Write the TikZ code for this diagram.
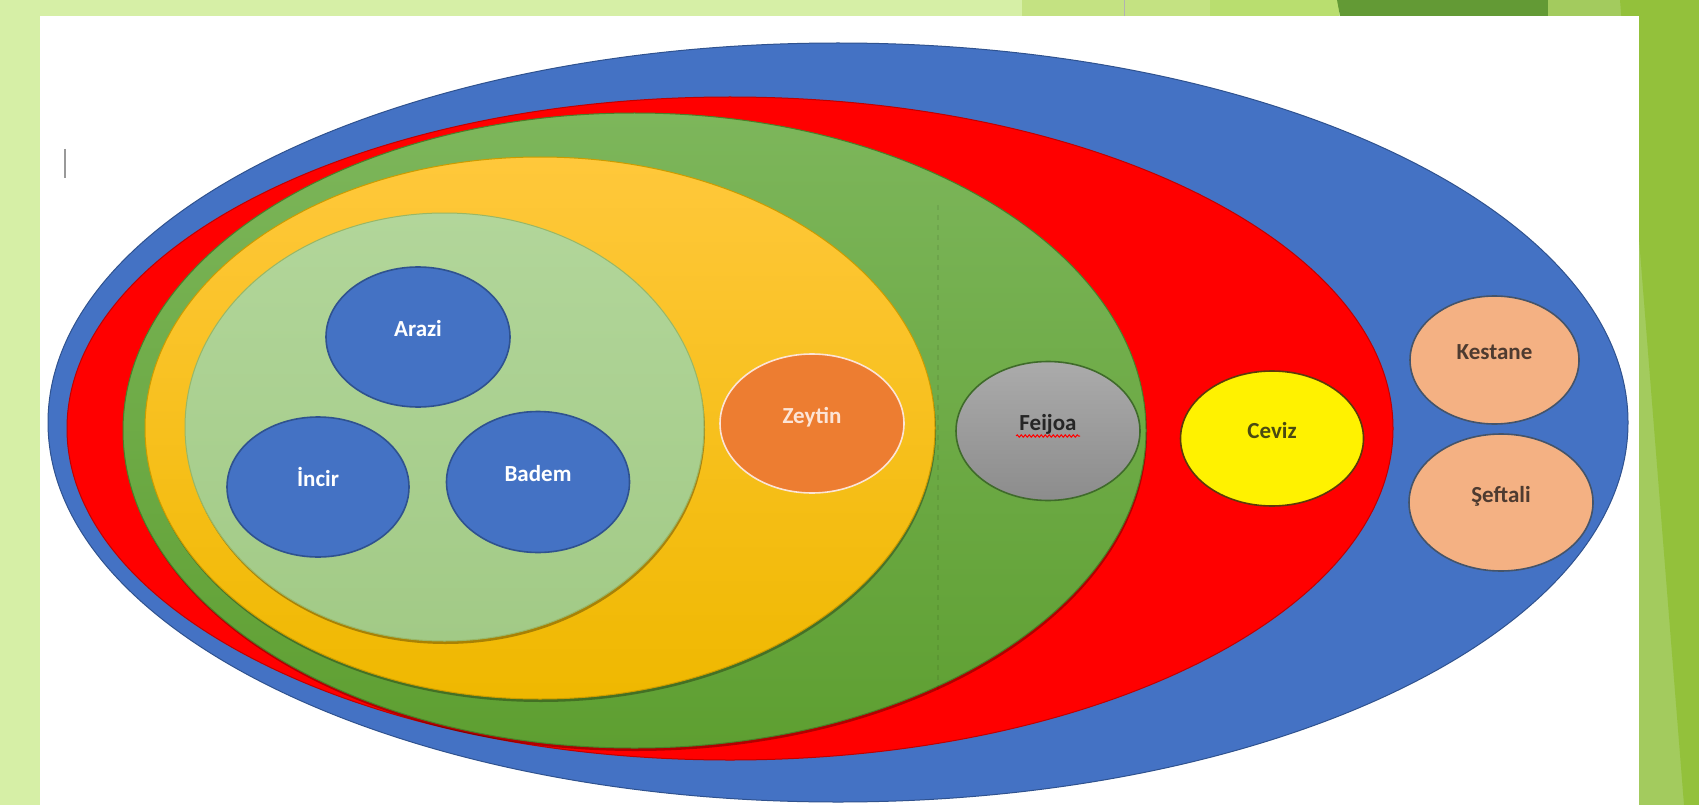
\documentclass[tikz,border=0pt]{standalone}
\usepackage{fontspec}
\setmainfont{Carlito}
\usetikzlibrary{shapes.geometric,shadows,decorations.pathmorphing}
\definecolor{slideBg}{HTML}{D6EFA6}
\definecolor{bandA}{HTML}{C4E282}
\definecolor{bandB}{HTML}{B9DE6F}
\definecolor{bandC}{HTML}{639A35}
\definecolor{bandD}{HTML}{A3CB5E}
\definecolor{bandE}{HTML}{93C13B}
\definecolor{ringBlue}{HTML}{4472C4}
\definecolor{ringBlueLine}{HTML}{2F528F}
\definecolor{ringRed}{HTML}{FF0000}
\definecolor{ringRedLine}{HTML}{C00000}
\definecolor{ringGreenTop}{HTML}{7DB65B}
\definecolor{ringGreenBot}{HTML}{5E9F31}
\definecolor{ringGoldTop}{HTML}{FFC83B}
\definecolor{ringGoldBot}{HTML}{EFB800}
\definecolor{ringPaleTop}{HTML}{B2D69A}
\definecolor{ringPaleBot}{HTML}{A2CA86}
\definecolor{zeytinFill}{HTML}{ED7D31}
\definecolor{zeytinText}{HTML}{FCE4D6}
\definecolor{feijoaLine}{HTML}{3F6B2A}
\definecolor{cevizLine}{HTML}{5C3A0A}
\definecolor{cevizText}{HTML}{4A4A12}
\definecolor{peachFill}{HTML}{F4B183}
\definecolor{peachLine}{HTML}{44546A}
\definecolor{peachText}{HTML}{4E3B30}
\tikzstyle{ring}=[shape = ellipse, inner sep = 0pt, line width = 1pt]
\tikzstyle{fruit}=[shape = ellipse, inner sep = 0pt, line width = 1.6pt, draw, font = \fontsize{23}{27}\selectfont\bfseries, text height = 16pt, text depth = 17pt]
\tikzstyle{lowshadow}=[drop shadow = {shadow xshift = 1pt, shadow yshift = -3pt, opacity = .3, fill = black}]

\begin{document}
\begin{tikzpicture}[x = 1pt, y = -1pt]
\tikzstyle{spellwave}=[red, line width = 1pt, decorate, decoration = {snake, amplitude = 1.2pt, segment length = 4pt}]
\tikzstyle{faintline}=[black, opacity = .07, line width = 1.5pt, dash pattern = on 5pt off 5pt]
\useasboundingbox (0,0) rectangle (1699,805);
\fill[slideBg] (0,0) rectangle (1699,805);
\fill[bandA] (1022,0) rectangle (1210,16);
\fill[bandB] (1210,0) rectangle (1339,16);
\fill[bandC] (1337,0) -- (1548,0) -- (1548,16) -- (1340,16) -- cycle;
\fill[bandD] (1548,0) rectangle (1699,805);
\fill[bandE] (1620,0) -- (1699,0) -- (1699,805) -- (1684,805) -- cycle;
\draw[black!30, line width = 1pt] (1124,0) -- (1124,16);
\fill[white] (40,16) rectangle (1639,805);
\draw[black!40, line width = 2pt] (65,149) -- (65,178);
\node[ring, fill = ringBlue, draw = ringBlueLine, minimum width = 1580pt, minimum height = 759pt] (outer) at (838,422.5) {};
\node[ring, fill = ringRed, draw = ringRedLine, minimum width = 1326pt, minimum height = 663pt] (redring) at (730,428.5) {};
\node[ring, lowshadow, top color = ringGreenTop, bottom color = ringGreenBot, draw = ringGreenBot!80!black, minimum width = 1023pt, minimum height = 635pt] (greenring) at (634.5,430.5) {};
\node[ring, lowshadow, top color = ringGoldTop, bottom color = ringGoldBot, draw = ringGoldBot!85!black, minimum width = 790pt, minimum height = 542pt] (goldring) at (540,428) {};
\node[ring, lowshadow, top color = ringPaleTop, bottom color = ringPaleBot, draw = ringPaleBot!75!olive, minimum width = 519pt, minimum height = 428pt] (palering) at (444.5,427) {};
\coordinate (dotTop) at (938,205);
\coordinate (dotBot) at (938,690);
\draw[faintline] (dotTop) -- (dotBot);
\node[fruit, fill = ringBlue, draw = ringBlueLine, text = white, minimum width = 184pt, minimum height = 140pt] (arazi) at (418,337) {Arazi};
\node[fruit, fill = ringBlue, draw = ringBlueLine, text = white, minimum width = 182pt, minimum height = 140pt] (incir) at (318,487) {İncir};
\node[fruit, fill = ringBlue, draw = ringBlueLine, text = white, minimum width = 183pt, minimum height = 141pt] (badem) at (538,482) {Badem};
\node[fruit, fill = zeytinFill, draw = zeytinText, text = zeytinText, minimum width = 184pt, minimum height = 139pt] (zeytin) at (812,423.5) {Zeytin};
\node[fruit, top color = black!33, bottom color = black!45, draw = feijoaLine, text = black!85, minimum width = 184pt, minimum height = 139pt] (feijoa) at (1048,431) {Feijoa};
\node[fruit, fill = yellow, draw = cevizLine, text = cevizText, minimum width = 183pt, minimum height = 135pt] (ceviz) at (1272,438.5) {Ceviz};
\node[fruit, fill = peachFill, draw = peachLine, text = peachText, minimum width = 169pt, minimum height = 128pt] (kestane) at (1494.5,360) {Kestane};
\node[fruit, fill = peachFill, draw = peachLine, text = peachText, minimum width = 184pt, minimum height = 137pt] (seftali) at (1501,502.5) {Şeftali};
\coordinate (spellA) at (1016,436);
\coordinate (spellB) at (1080,436);
\draw[spellwave] (spellA) -- (spellB);
\end{tikzpicture}
\end{document}
